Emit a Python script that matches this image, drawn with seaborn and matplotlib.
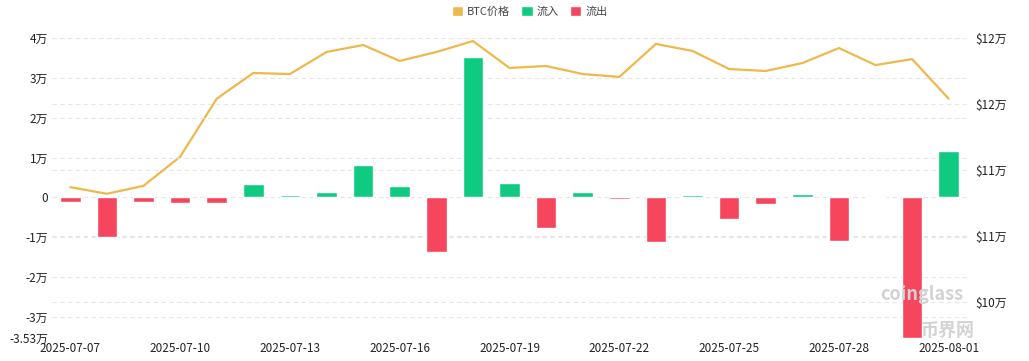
import numpy as np
import pandas as pd
import matplotlib
matplotlib.use('Agg')
import matplotlib.pyplot as plt
import seaborn as sns
from matplotlib.patches import Patch

# data
dates = ['2025-07-07', '2025-07-08', '2025-07-09', '2025-07-10', '2025-07-11',
         '2025-07-12', '2025-07-13', '2025-07-14', '2025-07-15', '2025-07-16',
         '2025-07-17', '2025-07-18', '2025-07-19', '2025-07-20', '2025-07-21',
         '2025-07-22', '2025-07-23', '2025-07-24', '2025-07-25', '2025-07-26',
         '2025-07-27', '2025-07-28', '2025-07-29', '2025-07-30', '2025-08-01']
netflow = [-1100, -10000, -1150, -1500, -1400,
           3300, 500, 1250, 8000, 2800,
           -13600, 35200, 3600, -7700, 1300,
           -500, -11200, 600, -5500, -1700,
           750, -11000, -100, -35300, 11600]
btc_price = [108700, 108200, 108800, 111000, 115400,
             117350, 117270, 118940, 119470, 118260,
             118940, 119770, 117730, 117880, 117270,
             117050, 119550, 119020, 117650, 117500,
             118100, 119240, 117950, 118400, 115400]

left_ticks = [40000, 30000, 20000, 10000, 0, -10000, -20000, -30000, -35300]
left_labels = ['4万', '3万', '2万', '1万', '0', '-1万', '-2万', '-3万', '-3.53万']
right_ticks = [120000, 115000, 110000, 105000, 100000]
right_labels = ['$12万', '$12万', '$11万', '$11万', '$10万']

GREEN = '#0ECB81'
RED = '#F6465D'
GOLD = '#EDB84C'

df = pd.DataFrame({'date': dates, 'flow': netflow, 'price': btc_price})
df['kind'] = np.where(df['flow'] >= 0, '流入', '流出')

sns.set_theme(style='white')
plt.rcParams['font.family'] = ['Noto Sans CJK SC', 'DejaVu Sans']

fig = plt.figure(figsize=(10.29, 3.61), dpi=100)
ax = fig.add_axes([52 / 1029, 1 - 338 / 361, (967 - 52) / 1029, 300 / 361])
ax2 = ax.twinx()
# bars on top so the right-axis grid stays behind them
ax.set_zorder(ax2.get_zorder() + 1)
ax.patch.set_visible(False)

sns.barplot(data=df, x='date', y='flow', hue='kind', palette={'流入': GREEN, '流出': RED},
            hue_order=['流入', '流出'], dodge=False, width=0.56, ax=ax, legend=False,
            saturation=1)
ax.set_ylim(-35300, 40000)
ax.set_xlim(-0.5, len(dates) - 0.5)
ax.set_yticks(left_ticks)
ax.set_yticklabels(left_labels)
ax.set_xlabel('')
ax.set_ylabel('')
show = [0, 3, 6, 9, 12, 15, 18, 21, 24]
ax.set_xticks(show)
ax.set_xticklabels([dates[i] for i in show])
ax.tick_params(axis='both', length=0, labelsize=8.5, colors='#222222', pad=3)
ax.grid(axis='y', color='#E6E6E6', linestyle=(0, (4, 3)), linewidth=0.8)
ax.set_axisbelow(True)

sns.lineplot(x=np.arange(len(dates)), y=df['price'], ax=ax2, color=GOLD, linewidth=1.6)
ax2.set_ylim(97273, 120000)
ax2.set_yticks(right_ticks)
ax2.set_yticklabels(right_labels)
ax2.set_ylabel('')
ax2.tick_params(axis='y', length=0, labelsize=8.5, colors='#222222', pad=6)
ax2.grid(axis='y', color='#E6E6E6', linestyle=(0, (4, 3)), linewidth=0.8)

for a in (ax, ax2):
    for s in a.spines.values():
        s.set_visible(False)

# legend
handles = [Patch(facecolor=GOLD, label='BTC价格'), Patch(facecolor=GREEN, label='流入'),
           Patch(facecolor=RED, label='流出')]
fig.legend(handles=handles, loc='upper center', bbox_to_anchor=(0.515, 1.01), ncol=3,
           frameon=False, fontsize=8, handlelength=1.0, handleheight=1.0,
           handletextpad=0.4, columnspacing=1.0, labelcolor='#444444')

# watermark
fig.text(0.855, 0.185, 'coinglass', fontsize=13, color='#D3D3D3', ha='left', va='center',
         fontweight='bold')
fig.text(0.895, 0.085, '币界网', fontsize=13, color='#D3D3D3', ha='left', va='center',
         fontweight='bold')

fig.savefig('out.png', dpi=100)
